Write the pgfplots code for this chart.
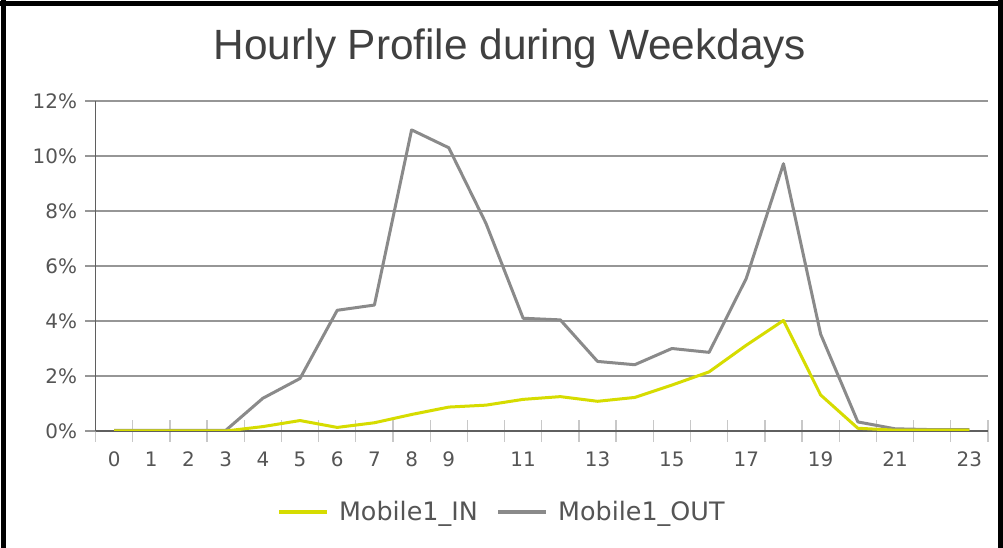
\documentclass[border=0pt]{standalone}
\usepackage{pgfplots}
\pgfplotsset{compat=1.18}
\usepackage{fontspec}
\setmainfont{DejaVu Sans}
\newfontfamily\titlefont{Liberation Sans}
\definecolor{inyellow}{RGB}{214,220,0}
\definecolor{outgray}{RGB}{138,138,138}
\definecolor{gridgray}{RGB}{150,150,150}
\definecolor{axisgray}{RGB}{95,95,95}
\definecolor{tickgray}{RGB}{200,200,200}
\definecolor{labelgray}{RGB}{85,85,85}
\definecolor{titlegray}{RGB}{64,64,64}
\begin{document}
\begin{tikzpicture}
\useasboundingbox (0bp,0bp) rectangle (1003bp,548bp);
\fill[white] (0bp,0bp) rectangle (1003bp,548bp);
\fill[black] (1bp,0bp) rectangle (6bp,548bp);
\fill[black] (0bp,542bp) rectangle (1003bp,547bp);
\fill[black] (998bp,0bp) rectangle (1003bp,548bp);
\node[font=\titlefont\fontsize{42.5}{50}\selectfont, text=titlegray, anchor=base, inner sep=0pt] at (510bp,488bp) {Hourly Profile during Weekdays};
\begin{axis}[
  at={(95.5bp,117bp)}, anchor=south west,
  width=892.5bp, height=330bp, scale only axis,
  xmin=-0.5, xmax=23.5, ymin=0, ymax=12,
  axis x line*=bottom, axis y line*=left,
  axis line style={axisgray, line width=1.3bp, -},
  xtick={0,...,23},
  xticklabels={0,1,2,3,4,5,6,7,8,9,,11,,13,,15,,17,,19,,21,,23},
  minor xtick={-0.5,0.5,...,23.5},
  ytick={0,2,...,12},
  yticklabels={0\%,2\%,4\%,6\%,8\%,10\%,12\%},
  ymajorgrids,
  major grid style={gridgray, line width=1.3bp},
  every major x tick/.append style={draw=none},
  every minor x tick/.append style={tickgray, line width=1.3bp},
  minor tick length=22bp,
  major tick length=10bp,
  xtick align=center,
  ytick align=outside,
  every major y tick/.append style={gridgray, line width=1.3bp},
  tick label style={font=\fontsize{20}{24}\selectfont, text=labelgray},
  yticklabel style={xshift=-5bp},
  xticklabel style={anchor=north, yshift=-12bp},
  legend columns=2,
  legend style={at={(0.4555,-0.245)}, anchor=center, draw=none, fill=none,
    font=\fontsize{25.5}{30}\selectfont, text=labelgray,
    /tikz/every odd column/.append style={column sep=8bp},
    /tikz/every even column/.append style={column sep=17bp}},
  legend image code/.code={\draw[#1, line width=3.5bp] (0bp,0bp) -- (48bp,0bp);},
]
\addplot[outgray, line width=3bp, line join=round, forget plot] coordinates {
(0,0.02) (1,0.02) (2,0.02) (3,0.02) (4,1.19) (5,1.91) (6,4.39) (7,4.58) (8,10.95) (9,10.3)
(10,7.55) (11,4.1) (12,4.04) (13,2.53) (14,2.41) (15,3.0) (16,2.86) (17,5.55)
(18,9.72) (19,3.52) (20,0.33) (21,0.08) (22,0.05) (23,0.05)};
\addplot[inyellow, line width=3bp, line join=round] coordinates {
(0,0) (1,0) (2,0) (3,0) (4,0.16) (5,0.38) (6,0.13) (7,0.3) (8,0.6) (9,0.87)
(10,0.94) (11,1.15) (12,1.25) (13,1.08) (14,1.22) (15,1.67) (16,2.15) (17,3.12)
(18,4.02) (19,1.31) (20,0.1) (21,0.03) (22,0.03) (23,0.03)};
\addlegendentry{Mobile1\_IN}
\addlegendimage{outgray, line width=3bp}
\addlegendentry{Mobile1\_OUT}
\end{axis}
\end{tikzpicture}
\end{document}
